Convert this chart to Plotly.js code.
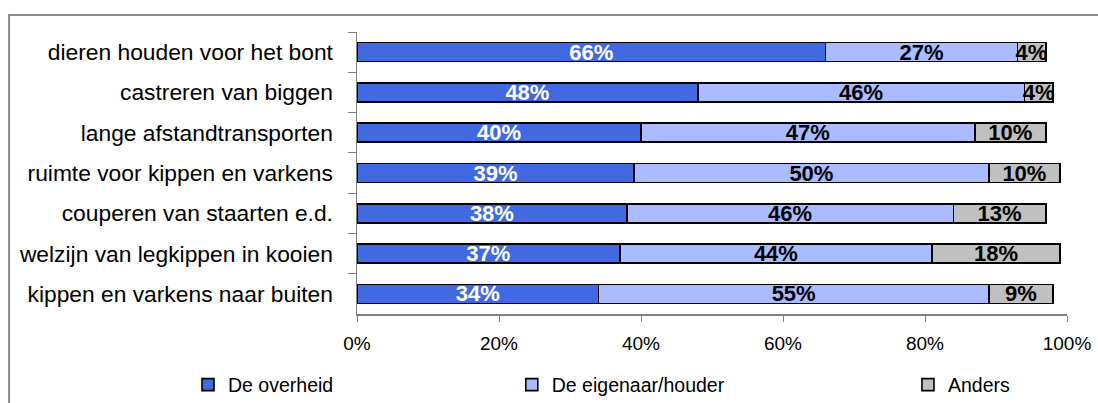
<!DOCTYPE html>
<html>
<head>
<meta charset="utf-8">
<script src="https://cdn.plot.ly/plotly-3.0.1.min.js"></script>
<style>html,body{margin:0;padding:0;background:#fff;}#chart{width:1098px;height:403px;}</style>
</head>
<body>
<div id="chart"></div>
<script>
const categories = [
  "dieren houden voor het bont",
  "castreren van biggen",
  "lange afstandtransporten",
  "ruimte voor kippen en varkens",
  "couperen van staarten e.d.",
  "welzijn van legkippen in kooien",
  "kippen en varkens naar buiten"
];
const overheid = [66, 48, 40, 39, 38, 37, 34];
const eigenaar = [27, 46, 47, 50, 46, 44, 55];
const anders   = [4, 4, 10, 10, 13, 18, 9];
const seriesNames = ["De overheid", "De eigenaar/houder", "Anders"];
const xTickVals = [0, 20, 40, 60, 80, 100];
const xTickText = ["0%", "20%", "40%", "60%", "80%", "100%"];

const FONT = "Liberation Sans, Arial, sans-serif";
const colors = ["#4169E1", "#AABBFF", "#C0C0C0"];
const textColors = ["#ffffff", "#000000", "#000000"];
const legendIds = ["legend", "legend2", "legend3"];

const traces = [overheid, eigenaar, anders].map((vals, i) => ({
  type: "bar",
  orientation: "h",
  name: seriesNames[i],
  y: categories,
  x: vals,
  text: vals.map(v => v + "%"),
  textposition: "inside",
  insidetextanchor: "middle",
  textangle: 0,
  constraintext: "none",
  textfont: {family: FONT, size: 22, color: textColors[i], weight: "bold"},
  marker: {color: colors[i], line: {color: "#000000", width: 1.6}},
  hoverinfo: "skip",
  legend: legendIds[i]
}));

function legendAt(x) {
  return {
    x: x, xanchor: "left", y: 0.0447, yanchor: "middle", yref: "container",
    orientation: "h", bgcolor: "rgba(0,0,0,0)", borderwidth: 0,
    font: {family: FONT, size: 19.5, color: "#000"}
  };
}

const layout = {
  width: 1098, height: 403,
  margin: {l: 357, r: 31, t: 32, b: 89},
  paper_bgcolor: "#ffffff",
  plot_bgcolor: "#ffffff",
  barmode: "stack",
  bargap: 0.53,
  showlegend: true,
  uniformtext: {mode: "show", minsize: 22},
  font: {family: FONT, color: "#000"},
  xaxis: {
    range: [0, 100],
    tickvals: xTickVals,
    ticktext: xTickText,
    ticks: "outside", ticklen: 6, tickcolor: "#808080", tickwidth: 1,
    showline: true, linecolor: "#808080", linewidth: 1.5,
    showgrid: false, zeroline: false,
    ticklabelstandoff: 6,
    tickfont: {family: FONT, size: 19, color: "#000"},
    fixedrange: true
  },
  yaxis: {
    type: "category",
    autorange: "reversed",
    tickson: "boundaries",
    ticks: "outside", ticklen: 8, tickcolor: "#808080", tickwidth: 1,
    showline: true, linecolor: "#808080", linewidth: 1.5,
    showgrid: false, zeroline: false,
    ticklabelstandoff: 18,
    tickfont: {family: FONT, size: 22.8, color: "#000"},
    fixedrange: true
  },
  legend: legendAt(-0.238),
  legend2: legendAt(0.218),
  legend3: legendAt(0.776),
  shapes: [{
    type: "rect", xref: "paper", yref: "paper",
    x0: -0.490, x1: 1.2, y0: -0.5, y1: 1.060,
    line: {color: "#8c8c8c", width: 2}, fillcolor: "rgba(0,0,0,0)",
    layer: "below"
  }]
};

Plotly.newPlot("chart", traces, layout, {displayModeBar: false, staticPlot: true});
</script>
</body>
</html>
